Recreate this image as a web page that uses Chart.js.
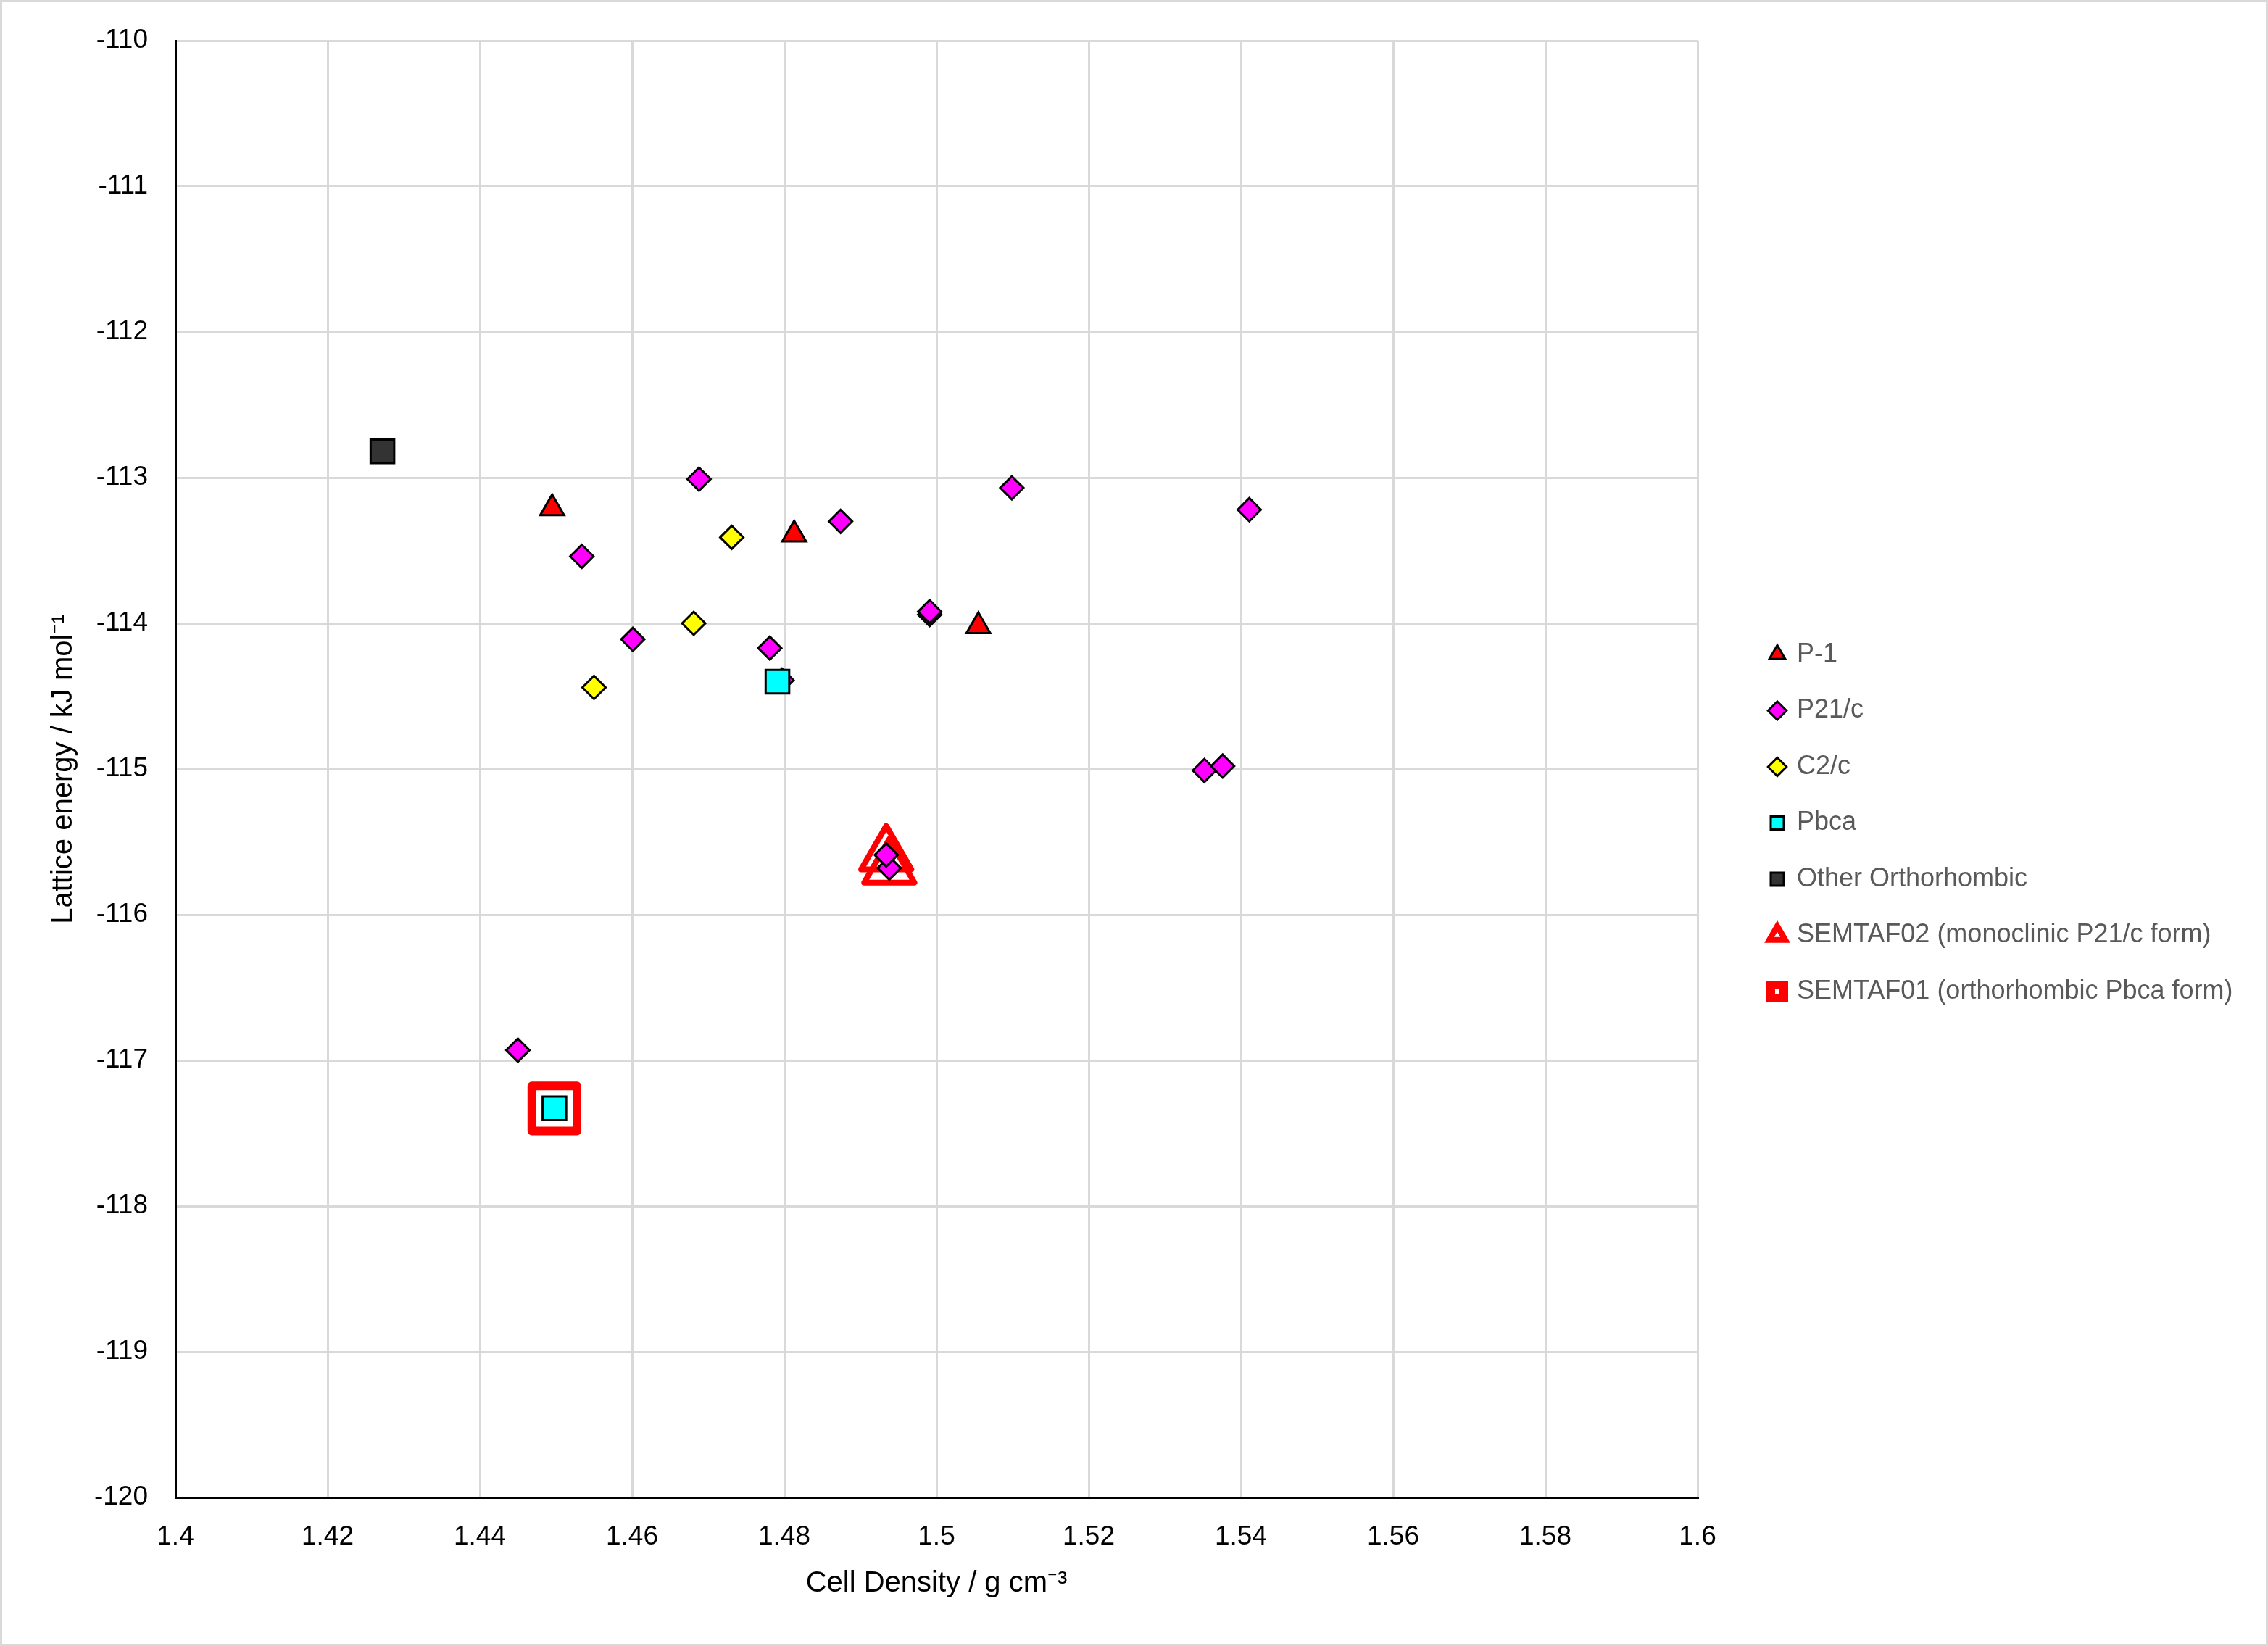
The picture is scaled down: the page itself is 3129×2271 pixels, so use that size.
<!DOCTYPE html>
<html>
<head>
<meta charset="utf-8">
<title>Lattice energy vs cell density</title>
<script src="https://cdn.jsdelivr.net/npm/chart.js@4.4.1/dist/chart.umd.min.js"></script>
<style>
    html, body { margin: 0; padding: 0; background: #ffffff; }
    canvas { display: block; }
</style>
</head>
<body>
<canvas id="grafico" width="3129" height="2271"></canvas>
<script>
// ==============================
// DATOS
// ==============================

const xTickLabels = ['1.4', '1.42', '1.44', '1.46', '1.48', '1.5', '1.52', '1.54', '1.56', '1.58', '1.6'];
const yTickLabels = ['-120', '-119', '-118', '-117', '-116', '-115', '-114', '-113', '-112', '-111', '-110'];

const seriesNames = [
    'P-1',
    'P21/c',
    'C2/c',
    'Pbca',
    'Other Orthorhombic',
    'SEMTAF02 (monoclinic P21/c form)',
    'SEMTAF01 (orthorhombic Pbca form)'
];

// densidad (g cm-3) y energía (kJ mol-1)
const p1Density = [1.4495, 1.4813, 1.5055];
const p1Energy = [-113.21, -113.39, -114.02];

const p21cDensity = [1.4688, 1.4534, 1.4874, 1.5099, 1.5411, 1.4601, 1.4781, 1.4991, 1.4991, 1.5352, 1.5376, 1.4450, 1.4938, 1.4934, 1.4797];
const p21cEnergy = [-113.01, -113.54, -113.30, -113.07, -113.22, -114.11, -114.17, -113.94, -113.92, -115.01, -114.98, -116.93, -115.68, -115.59, -114.39];

const c2cDensity = [1.4731, 1.4681, 1.4550];
const c2cEnergy = [-113.41, -114.00, -114.44];

const pbcaDensity = [1.4791, 1.4498];
const pbcaEnergy = [-114.40, -117.33];

const otherDensity = [1.4272];
const otherEnergy = [-112.82];

const semtaf02Density = [1.4934, 1.4938];
const semtaf02Energy = [-115.59, -115.68];

const semtaf01Density = [1.4498];
const semtaf01Energy = [-117.33];

// ==============================
// LAYOUT
// ==============================
const W = 3129;
const H = 2271;
const PLOT_LEFT = 242;
const PLOT_RIGHT = 2342;
const PLOT_TOP = 52;
const PLOT_BOTTOM = 2066;
const LEGEND_LEFT = 2401.5;
const FONT = "'Liberation Sans', Arial, sans-serif";

Chart.defaults.font.family = FONT;

function puntos(xs, ys) {
    return xs.map((x, i) => ({ x: x, y: ys[i] }));
}

// fondo blanco + marco gris
const fondo = {
    id: 'fondo',
    beforeDraw(chart) {
        const ctx = chart.ctx;
        ctx.save();
        ctx.fillStyle = '#ffffff';
        ctx.fillRect(0, 0, chart.width, chart.height);
        ctx.restore();
    },
    afterDraw(chart) {
        const ctx = chart.ctx;
        ctx.save();
        ctx.strokeStyle = '#d9d9d9';
        ctx.lineWidth = 3;
        ctx.strokeRect(1.5, 1.5, chart.width - 3, chart.height - 3);
        ctx.restore();
    }
};

// uniones redondeadas para los marcadores rojos gruesos
const uniones = {
    id: 'uniones',
    beforeDatasetDraw(chart, args) {
        chart.ctx.lineJoin = args.index >= 5 ? 'round' : 'miter';
    },
    afterDatasetDraw(chart) {
        chart.ctx.lineJoin = 'miter';
    }
};

// mover la leyenda a su sitio
const moverLeyenda = {
    id: 'moverLeyenda',
    afterLayout(chart) {
        const lg = chart.legend;
        if (!lg) return;
        const dx = LEGEND_LEFT - lg.left;
        lg.left += dx;
        lg.right += dx;
    }
};

const datasets = [
    {
        label: seriesNames[0],
        data: puntos(p1Density, p1Energy),
        pointStyle: 'triangle',
        pointRadius: 19,
        backgroundColor: '#ff0000',
        borderColor: '#000000',
        borderWidth: 3,
        order: 5
    },
    {
        label: seriesNames[1],
        data: puntos(p21cDensity, p21cEnergy),
        pointStyle: 'rectRot',
        pointRadius: 16,
        backgroundColor: '#ff00ff',
        borderColor: '#000000',
        borderWidth: 3,
        order: 4
    },
    {
        label: seriesNames[2],
        data: puntos(c2cDensity, c2cEnergy),
        pointStyle: 'rectRot',
        pointRadius: 16,
        backgroundColor: '#ffff00',
        borderColor: '#000000',
        borderWidth: 3,
        order: 3
    },
    {
        label: seriesNames[3],
        data: puntos(pbcaDensity, pbcaEnergy),
        pointStyle: 'rect',
        pointRadius: 23,
        backgroundColor: '#00ffff',
        borderColor: '#000000',
        borderWidth: 3,
        order: 2
    },
    {
        label: seriesNames[4],
        data: puntos(otherDensity, otherEnergy),
        pointStyle: 'rect',
        pointRadius: 23,
        backgroundColor: '#333333',
        borderColor: '#000000',
        borderWidth: 3,
        order: 1
    },
    {
        label: seriesNames[5],
        data: puntos(semtaf02Density, semtaf02Energy),
        pointStyle: 'triangle',
        pointRadius: 40,
        backgroundColor: 'rgba(255,255,255,0)',
        borderColor: '#ff0000',
        borderWidth: 8,
        order: 6
    },
    {
        label: seriesNames[6],
        data: puntos(semtaf01Density, semtaf01Energy),
        pointStyle: 'rect',
        pointRadius: 44,
        backgroundColor: '#ffffff',
        borderColor: '#ff0000',
        borderWidth: 12,
        order: 7
    }
];

const ctx = document.getElementById('grafico').getContext('2d');

const grafico = new Chart(ctx, {
    type: 'scatter',
    data: { datasets: datasets },
    options: {
        responsive: false,
        devicePixelRatio: 1,
        animation: false,
        events: [],
        layout: {
            padding: { top: PLOT_TOP, bottom: H - PLOT_BOTTOM - 153, left: 0, right: 0 }
        },
        plugins: {
            legend: {
                position: 'right',
                align: 'center',
                labels: {
                    usePointStyle: true,
                    boxWidth: 18,
                    boxHeight: 18,
                    padding: 41.5,
                    color: '#595959',
                    font: { size: 36, family: FONT },
                    sort: (a, b) => a.datasetIndex - b.datasetIndex
                }
            },
            tooltip: { enabled: false }
        },
        scales: {
            x: {
                type: 'linear',
                min: 1.4,
                max: 1.6,
                ticks: {
                    stepSize: 0.02,
                    autoSkip: false,
                    maxRotation: 0,
                    padding: 33,
                    color: '#000000',
                    font: { size: 37 },
                    callback: (v, i) => xTickLabels[i]
                },
                grid: { color: '#d9d9d9', lineWidth: 3, drawTicks: false },
                border: { color: '#000000', width: 3 },
                title: {
                    display: true,
                    text: 'Cell Density / g cm⁻³',
                    color: '#000000',
                    font: { size: 40 },
                    padding: { top: 0, bottom: 10 }
                },
                afterFit(scale) {
                    scale.height = 153;
                }
            },
            y: {
                type: 'linear',
                min: -120,
                max: -110,
                ticks: {
                    stepSize: 1,
                    padding: 38,
                    color: '#000000',
                    font: { size: 37 },
                    callback: (v, i) => yTickLabels[i]
                },
                grid: { color: '#d9d9d9', lineWidth: 3, drawTicks: false },
                border: { color: '#000000', width: 3 },
                title: {
                    display: true,
                    text: 'Lattice energy / kJ mol⁻¹',
                    color: '#000000',
                    font: { size: 40 },
                    padding: { top: 64, bottom: 0 }
                },
                afterFit(scale) {
                    scale.width = PLOT_LEFT;
                    scale.paddingTop = 0;
                    scale.paddingBottom = 0;
                }
            }
        }
    },
    plugins: [fondo, uniones, moverLeyenda]
});

// ajustar el borde derecho del área de trazado según el ancho de la leyenda
grafico.options.layout.padding.right = Math.max(0, W - PLOT_RIGHT - grafico.legend.width);
grafico.update();
</script>
</body>
</html>
